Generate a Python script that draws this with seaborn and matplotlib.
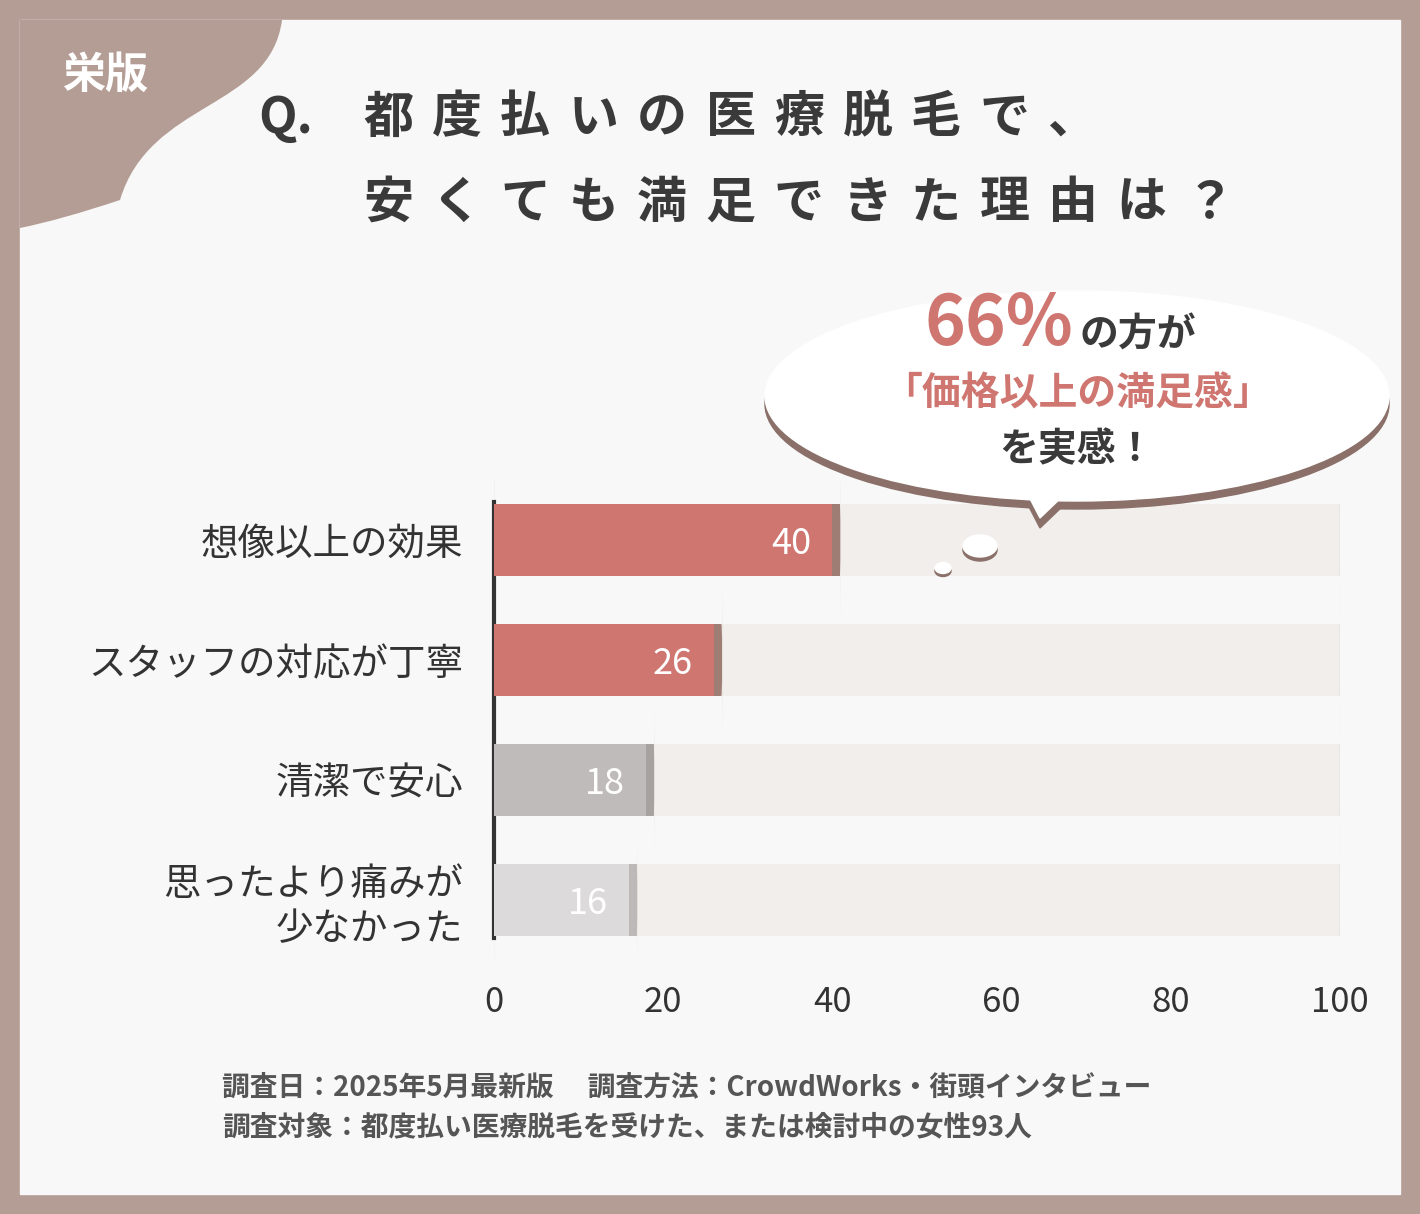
import matplotlib.pyplot as plt
import seaborn as sns
import pandas as pd
from matplotlib.patches import Rectangle, Ellipse, PathPatch, FancyBboxPatch, Polygon
from matplotlib.path import Path

categories = ["想像以上の効果", "スタッフの対応が丁寧", "清潔で安心", "思ったより痛みが\n少なかった"]
values = [40, 26, 18, 16]
bar_colors = ["#cf7671", "#cf7671", "#bfbbba", "#dcdadb"]
shade_colors = ["#9e7d74", "#9e7d74", "#a7a2a0", "#bdb9b8"]
xticks = [0, 20, 40, 60, 80, 100]

plt.rcParams["font.family"] = "Noto Sans CJK JP"
W, H = 1420, 1214
fig = plt.figure(figsize=(W / 100, H / 100), dpi=100)
fig.patch.set_facecolor("#b49d95")

# background overlay in pixel coordinates
bg = fig.add_axes([0, 0, 1, 1], zorder=0)
bg.set_xlim(0, W)
bg.set_ylim(H, 0)
bg.axis("off")
bg.add_patch(Rectangle((20, 20), 1380, 1174, color="#f8f8f8"))
verts = [(20, 20), (282, 20), (270, 110), (150, 100), (120, 200), (60, 220), (20, 228), (20, 20)]
codes = [Path.MOVETO, Path.LINETO, Path.CURVE4, Path.CURVE4, Path.CURVE4, Path.CURVE3, Path.CURVE3, Path.CLOSEPOLY]
bg.add_patch(PathPatch(Path(verts, codes), color="#b49d95", lw=0))
bg.text(105, 75, "栄版", color="white", fontsize=31, fontweight="bold", ha="center", va="center")


def spaced(ax, x, y, s, step, **kw):
    for i, ch in enumerate(s):
        ax.text(x + i * step, y, ch, ha="center", va="center", **kw)


title_kw = dict(color="#3a3a3a", fontsize=36, fontweight="bold")
bg.text(258, 118, "Q.", va="center", **title_kw)
spaced(bg, 388, 118, "都度払いの医療脱毛で、", 68.5, **title_kw)
spaced(bg, 388, 203, "安くても満足できた理由は？", 68.5, **title_kw)
bg.text(222, 1087, "調査日：2025年5月最新版　 調査方法：CrowdWorks・街頭インタビュー",
        color="#555555", fontsize=20, fontweight="bold", va="center")
bg.text(222, 1127, "調査対象：都度払い医療脱毛を受けた、または検討中の女性93人",
        color="#555555", fontsize=20, fontweight="bold", va="center")

# chart axes
ax = fig.add_axes([494 / W, 1 - 960 / H, (1340 - 494) / W, 480 / H], zorder=1)
ax.patch.set_alpha(0)
df = pd.DataFrame({"cat": categories, "val": values})
h = 0.6
for i, v in enumerate(values):
    ax.add_patch(FancyBboxPatch((0, i - h / 2), 100.5, h, boxstyle="round,pad=0,rounding_size=0.12",
                                mutation_aspect=8, color="#e6e2e0", lw=0))
    ax.add_patch(FancyBboxPatch((0, i - h / 2), 100, h, boxstyle="round,pad=0,rounding_size=0.12",
                                mutation_aspect=8, color="#f1eeec", lw=0))
    ax.add_patch(FancyBboxPatch((0, i - h / 2), v + 1, h, boxstyle="round,pad=0,rounding_size=0.12",
                                mutation_aspect=8, color=shade_colors[i], lw=0))
sns.barplot(data=df, x="val", y="cat", hue="cat", palette=bar_colors, orient="h",
            width=h, legend=False, saturation=1, linewidth=0, ax=ax, zorder=3)
for i, v in enumerate(values):
    ax.text(v - 2.5, i + 0.03, str(v), color="white", fontsize=26, ha="right", va="center", zorder=4)
ax.set_xlim(0, 100)
ax.set_ylim(3.5, -0.5)
ax.set_xticks(xticks)
ax.set_xticklabels([str(t) for t in xticks], fontsize=25, color="#333333")
ax.tick_params(axis="x", length=0, pad=18)
ax.tick_params(axis="y", length=0, pad=22, labelsize=27, labelcolor="#333333")
ax.set_xlabel("")
ax.set_ylabel("")
for s in ["top", "right", "bottom"]:
    ax.spines[s].set_visible(False)
ax.spines["left"].set_color("#333333")
ax.spines["left"].set_linewidth(3)
ax.spines["left"].set_bounds(-0.32, 3.32)

# speech bubble overlay
fg = fig.add_axes([0, 0, 1, 1], zorder=2)
fg.set_xlim(0, W)
fg.set_ylim(H, 0)
fg.axis("off")
fg.add_patch(Ellipse((1077, 404), 624, 210, color="#8a7069"))
fg.add_patch(Polygon([(1010, 470), (1040, 528), (1090, 480)], color="#8a7069"))
fg.add_patch(Ellipse((1077, 396), 624, 210, color="white"))
fg.add_patch(Polygon([(1010, 460), (1040, 518), (1090, 470)], color="white"))
fg.add_patch(Ellipse((980, 550), 34, 22, color="#8a7069"))
fg.add_patch(Ellipse((980, 546), 34, 22, color="white"))
fg.add_patch(Ellipse((943, 571), 16, 11, color="#8a7069"))
fg.add_patch(Ellipse((943, 568), 16, 11, color="white"))
fg.text(1073, 325, "66%", color="#cf7671", fontsize=50, fontweight="bold", ha="right", va="center")
fg.text(1080, 335, "の方が", color="#3a3a3a", fontsize=28, fontweight="bold", ha="left", va="center")
fg.text(1077, 394, "「価格以上の満足感」", color="#cf7671", fontsize=28, fontweight="bold", ha="center", va="center")
fg.text(1077, 450, "を実感！", color="#3a3a3a", fontsize=28, fontweight="bold", ha="center", va="center")

fig.savefig("out.png", dpi=100)
